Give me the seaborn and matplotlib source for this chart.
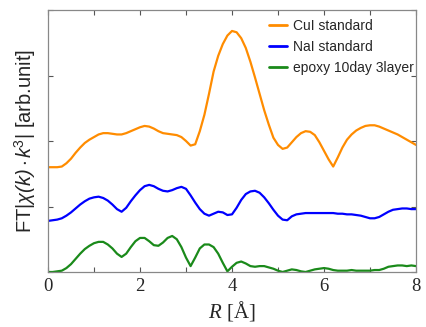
import numpy as np
import pandas as pd
import matplotlib
matplotlib.use("Agg")
import matplotlib.pyplot as plt
import seaborn as sns
from matplotlib.ticker import MultipleLocator, NullFormatter

# ---- data ----
R = np.round(np.arange(81) * 0.1, 1)

cui = [1.60, 1.60, 1.60, 1.61, 1.66, 1.73, 1.82, 1.90, 1.97, 2.02,
       2.06, 2.10, 2.12, 2.12, 2.11, 2.10, 2.10, 2.12, 2.15, 2.18,
       2.21, 2.23, 2.22, 2.19, 2.15, 2.12, 2.11, 2.10, 2.09, 2.06,
       2.00, 1.93, 1.95, 2.15, 2.40, 2.72, 3.06, 3.30, 3.48, 3.61,
       3.68, 3.66, 3.57, 3.42, 3.21, 2.97, 2.72, 2.47, 2.25, 2.05,
       1.94, 1.88, 1.90, 1.98, 2.06, 2.12, 2.15, 2.14, 2.09, 1.98,
       1.85, 1.72, 1.61, 1.75, 1.90, 2.02, 2.10, 2.16, 2.20, 2.23,
       2.24, 2.24, 2.22, 2.19, 2.16, 2.13, 2.10, 2.06, 2.02, 1.98,
       1.94]

nai = [0.78, 0.79, 0.80, 0.82, 0.86, 0.91, 0.97, 1.03, 1.08, 1.12,
       1.14, 1.15, 1.13, 1.09, 1.03, 0.96, 0.92, 0.98, 1.08, 1.17,
       1.25, 1.31, 1.33, 1.31, 1.27, 1.24, 1.23, 1.25, 1.28, 1.30,
       1.27, 1.17, 1.06, 0.96, 0.89, 0.86, 0.89, 0.92, 0.91, 0.87,
       0.88, 0.98, 1.10, 1.19, 1.23, 1.24, 1.21, 1.14, 1.05, 0.95,
       0.86, 0.80, 0.79, 0.85, 0.88, 0.89, 0.90, 0.90, 0.90, 0.90,
       0.90, 0.90, 0.90, 0.89, 0.89, 0.88, 0.88, 0.87, 0.86, 0.84,
       0.82, 0.82, 0.84, 0.88, 0.92, 0.95, 0.96, 0.97, 0.97, 0.96,
       0.96]

epoxy = [0.00, 0.00, 0.01, 0.02, 0.06, 0.12, 0.20, 0.28, 0.35, 0.40,
         0.44, 0.46, 0.46, 0.42, 0.36, 0.28, 0.23, 0.28, 0.38, 0.47,
         0.52, 0.52, 0.47, 0.41, 0.40, 0.45, 0.52, 0.55, 0.50, 0.38,
         0.22, 0.09, 0.22, 0.36, 0.42, 0.42, 0.38, 0.28, 0.14, 0.01,
         0.08, 0.14, 0.16, 0.13, 0.09, 0.08, 0.09, 0.09, 0.07, 0.05,
         0.02, 0.00, 0.02, 0.04, 0.03, 0.01, 0.00, 0.02, 0.04, 0.05,
         0.06, 0.05, 0.03, 0.02, 0.02, 0.02, 0.03, 0.02, 0.02, 0.02,
         0.02, 0.03, 0.03, 0.05, 0.08, 0.09, 0.10, 0.10, 0.09, 0.10,
         0.09]

labels = ["CuI standard", "NaI standard", "epoxy 10day 3layer"]
colors = ["#ff8c00", "#0000ff", "#1a8a1a"]
xticks = [0, 2, 4, 6, 8]

df = pd.concat([
    pd.DataFrame({"R": R, "FT": cui, "sample": labels[0]}),
    pd.DataFrame({"R": R, "FT": nai, "sample": labels[1]}),
    pd.DataFrame({"R": R, "FT": epoxy, "sample": labels[2]}),
])

sns.set_style("ticks")
plt.rcParams["mathtext.fontset"] = "custom"
plt.rcParams["mathtext.rm"] = "Liberation Sans"
plt.rcParams["mathtext.sf"] = "Liberation Sans:italic"
plt.rcParams["mathtext.it"] = "Liberation Serif:italic"

fig = plt.figure(figsize=(4.26, 3.27), dpi=100)
ax = fig.add_axes([48 / 426, 1 - 272 / 327, (416 - 48) / 426, (272 - 10) / 327])

sns.lineplot(data=df, x="R", y="FT", hue="sample", palette=dict(zip(labels, colors)),
             linewidth=1.6, ax=ax, sort=False, estimator=None)

ax.set_xlim(0, 8)
ax.set_ylim(0, 4)
ax.set_xticks(xticks)
ax.set_xticklabels([str(t) for t in xticks], fontfamily="Liberation Serif", fontsize=13.5)
ax.xaxis.set_minor_locator(MultipleLocator(1))
ax.set_yticks([0, 1, 2, 3, 4])
ax.yaxis.set_major_formatter(NullFormatter())
ax.tick_params(which="both", direction="in", top=True, right=True, length=3.5,
               width=0.8, color="#555555", pad=4)
for s in ax.spines.values():
    s.set_color("#888888")
    s.set_linewidth(0.9)

ax.set_xlabel(r"$R$ [Å]", fontfamily="Liberation Serif", fontsize=15, labelpad=3)
ax.set_ylabel(r"FT|$\mathsf{\chi(k)}\cdot\mathsf{k}^{3}$| [arb.unit]",
              fontfamily="Liberation Sans", fontsize=14.5, labelpad=3)

leg = ax.legend(loc="upper right", bbox_to_anchor=(1.02, 1.0), frameon=False,
                prop={"family": "Liberation Sans", "size": 10},
                handlelength=1.3, handletextpad=0.45, labelspacing=0.5,
                borderaxespad=0.45, borderpad=0.2)
for line in leg.get_lines():
    line.set_linewidth(2)

fig.savefig("out.png", dpi=100)
